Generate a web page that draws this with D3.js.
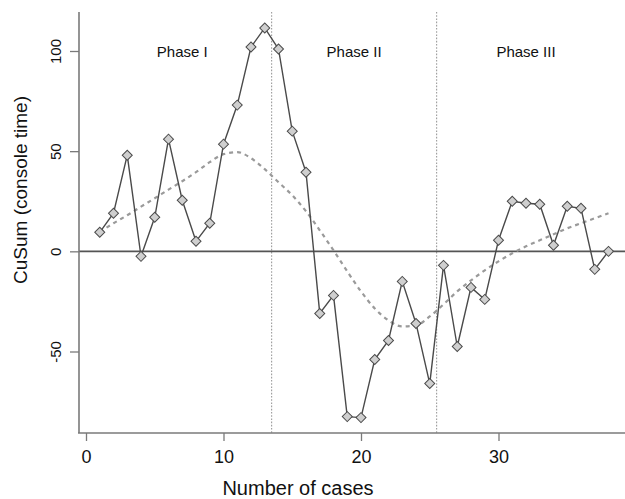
<!DOCTYPE html>
<html>
<head>
<meta charset="utf-8">
<script src="https://cdn.jsdelivr.net/npm/d3@7/dist/d3.min.js"></script>
<style>
  html, body { margin: 0; padding: 0; background: #fff; }
  svg { display: block; font-family: "Liberation Sans", Arial, Helvetica, sans-serif; }
</style>
</head>
<body>
<svg id="chart" width="625" height="499"></svg>
<script>
// ---- data ----
const cases = [1,2,3,4,5,6,7,8,9,10,11,12,13,14,15,16,17,18,19,20,21,22,23,24,25,26,27,28,29,30,31,32,33,34,35,36,37,38];
const cusum = [9.5, 19, 48, -2.5, 17, 56, 25.5, 5, 14, 53.5, 73, 102, 111.5, 101, 60, 39.5,
               -31, -22, -82.5, -83, -54, -44.5, -15, -36, -66, -7, -47.5, -18, -24,
               5.5, 25, 24, 23.5, 3, 22.5, 21.5, -9, 0];
const trend = [9.7, 14, 18, 22.3, 26.5, 30.8, 35, 39.5, 44.5, 48.5, 49.5, 46.5, 41, 34.5, 28, 20,
               10.5, 0.5, -10, -20, -28.5, -34.5, -37.5, -37, -32.5, -26.5, -20, -14.5, -9.5,
               -5, -1, 2.5, 5.5, 8.5, 11.5, 14, 16.5, 19];
const phaseBreaks = [13.5, 25.5];
const phaseLabels = ["Phase I", "Phase II", "Phase III"];
const phaseCenters = [7, 19.5, 32];
const xTicks = [0, 10, 20, 30];
const yTicks = [-50, 0, 50, 100];
const xTitle = "Number of cases";
const yTitle = "CuSum (console time)";

// ---- layout ----
const svg = d3.select("#chart");
const axisX = 79, axisY = 433, plotTop = 12, plotRight = 625;

const x = d3.scaleLinear().domain([0, 38]).range([86, 608.5]);
const y = d3.scaleLinear().domain([-50, 100]).range([351.5, 51]);

// phase separators
svg.append("g").selectAll("line").data(phaseBreaks).join("line")
  .attr("x1", d => x(d)).attr("x2", d => x(d))
  .attr("y1", plotTop).attr("y2", axisY)
  .attr("stroke", "#9a9a9a").attr("stroke-width", 1.1)
  .attr("stroke-dasharray", "1.6,1.6");

// zero line
svg.append("line")
  .attr("x1", axisX).attr("x2", plotRight)
  .attr("y1", y(0)).attr("y2", y(0))
  .attr("stroke", "#555").attr("stroke-width", 1.6);

// smooth trend (dashed)
const pts = cases.map((c, i) => ({ c, v: cusum[i], t: trend[i] }));
svg.append("path").datum(pts)
  .attr("fill", "none").attr("stroke", "#9a9a9a").attr("stroke-width", 2.2)
  .attr("stroke-dasharray", "4,4")
  .attr("d", d3.line().x(d => x(d.c)).y(d => y(d.t)).curve(d3.curveMonotoneX));

// cusum line
svg.append("path").datum(pts)
  .attr("fill", "none").attr("stroke", "#4a4a4a").attr("stroke-width", 1.4)
  .attr("d", d3.line().x(d => x(d.c)).y(d => y(d.v)));

// markers (diamonds)
const diamond = d3.symbol().type(d3.symbolSquare).size(50);
svg.append("g").selectAll("path").data(pts).join("path")
  .attr("d", diamond)
  .attr("transform", d => `translate(${x(d.c)},${y(d.v)}) rotate(45)`)
  .attr("fill", "#cfcfcf").attr("stroke", "#4a4a4a").attr("stroke-width", 1);

// phase labels
svg.append("g").selectAll("text").data(phaseLabels).join("text")
  .attr("x", (d, i) => x(phaseCenters[i])).attr("y", 56.5)
  .attr("text-anchor", "middle").attr("font-size", 15).attr("fill", "#111")
  .text(d => d);

// y axis
const gy = svg.append("g").attr("transform", `translate(${axisX},0)`)
  .call(d3.axisLeft(y).tickValues(yTicks).tickSize(9).tickFormat(d3.format("d")));
gy.select(".domain").remove();
gy.selectAll(".tick line").attr("stroke", "#7a7a7a").attr("stroke-width", 1.3);
gy.selectAll(".tick text")
  .attr("x", null).attr("dy", null)
  .attr("transform", "translate(-18.5,0) rotate(-90)")
  .attr("text-anchor", "middle")
  .attr("font-size", 15).attr("fill", "#111")
  .attr("font-family", "Liberation Sans, Arial, sans-serif")
  .text(d => String(d));
svg.append("line").attr("x1", axisX).attr("x2", axisX).attr("y1", plotTop).attr("y2", axisY)
  .attr("stroke", "#7a7a7a").attr("stroke-width", 1.6);

// x axis
const gx = svg.append("g").attr("transform", `translate(0,${axisY})`)
  .call(d3.axisBottom(x).tickValues(xTicks).tickSize(8));
gx.select(".domain").remove();
gx.selectAll(".tick line").attr("stroke", "#7a7a7a").attr("stroke-width", 1.3);
gx.selectAll(".tick text")
  .attr("y", 30).attr("dy", null)
  .attr("font-size", 18).attr("fill", "#111")
  .attr("font-family", "Liberation Sans, Arial, sans-serif");
svg.append("line").attr("x1", axisX - 1).attr("x2", plotRight).attr("y1", axisY).attr("y2", axisY)
  .attr("stroke", "#7a7a7a").attr("stroke-width", 1.6);

// titles
svg.append("text").attr("x", 298).attr("y", 495)
  .attr("text-anchor", "middle").attr("font-size", 20).attr("fill", "#111")
  .text(xTitle);
svg.append("text")
  .attr("transform", "translate(26.5,190) rotate(-90)")
  .attr("text-anchor", "middle").attr("font-size", 19).attr("fill", "#111")
  .text(yTitle);
</script>
</body>
</html>
